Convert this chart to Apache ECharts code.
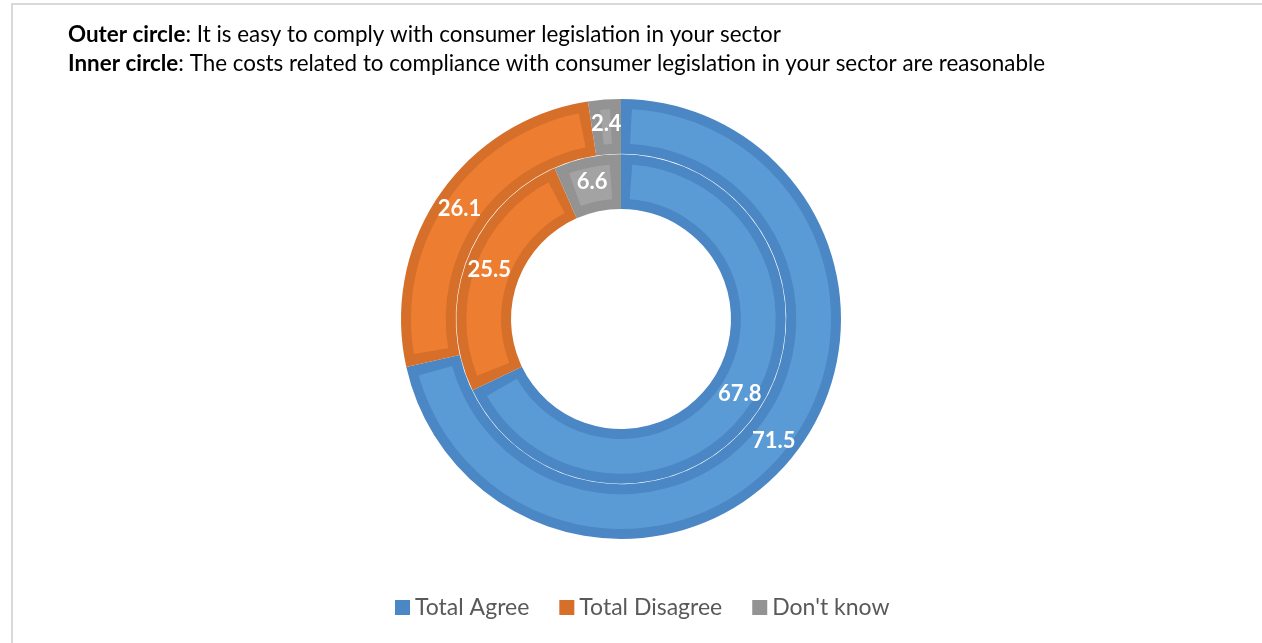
<!DOCTYPE html>
<html>
<head>
<meta charset="utf-8">
<title>Consumer legislation compliance</title>
<script src="https://cdn.jsdelivr.net/npm/echarts@6/dist/echarts.min.js"></script>
<style>
  html, body { margin: 0; padding: 0; background: #fff; }
  #chart { width: 1262px; height: 643px; }
</style>
</head>
<body>
<div id="chart"></div>
<script>
// Response categories (clockwise from 12 o'clock)
const categories = ['Total Agree', 'Total Disagree', "Don't know"];
// Outer circle: "It is easy to comply with consumer legislation in your sector"
const outerValues = [71.5, 26.1, 2.4];
// Inner circle: "The costs related to compliance ... are reasonable"
const innerValues = [67.8, 25.5, 6.6];

const fillColors = ['#5B9BD5', '#ED7D31', '#A3A3A3'];
const edgeColors = ['#4A87C4', '#D56F2A', '#939393'];

const cx = 621, cy = 319;
const rHole = 110, rMid = 165, rOuter = 220;
const band = 10; // width of the darker rim around each segment

function toData(values, colors) {
  return categories.map((name, i) => ({
    name: name,
    value: values[i],
    itemStyle: { color: colors[i] }
  }));
}

const labelStyle = {
  show: true,
  position: 'inside',
  color: '#ffffff',
  fontFamily: 'Lato, "Open Sans", sans-serif',
  fontWeight: 'bold',
  fontSize: 22,
  formatter: p => p.value.toFixed(1)
};

function ring(r0, r1, values) {
  const rm = (r0 + r1) / 2;
  const pad = (2 * band / rm) * 180 / Math.PI;
  return [
    {
      type: 'pie',
      center: [cx, cy],
      radius: [r0, r1],
      startAngle: 90,
      clockwise: true,
      silent: true,
      label: { show: false },
      labelLine: { show: false },
      data: toData(values, edgeColors)
    },
    {
      type: 'pie',
      center: [cx, cy],
      radius: [r0 + band, r1 - band],
      startAngle: 90,
      clockwise: true,
      padAngle: pad,
      silent: true,
      label: labelStyle,
      labelLine: { show: false },
      data: toData(values, fillColors)
    }
  ];
}

const chart = echarts.init(document.getElementById('chart'), null, { renderer: 'canvas' });

chart.setOption({
  animation: false,
  backgroundColor: '#ffffff',
  graphic: [
    {
      type: 'rect',
      shape: { x: 12, y: 4, width: 1400, height: 800 },
      style: { fill: 'none', stroke: '#D9D9D9', lineWidth: 2 },
      z: -1
    }
  ],
  title: {
    left: 63,
    top: 15,
    text: '{b|Outer circle}: It is easy to comply with consumer legislation in your sector\n{b|Inner circle}: The costs related to compliance with consumer legislation in your sector are reasonable',
    textStyle: {
      fontFamily: 'Lato, "Open Sans", sans-serif',
      fontSize: 22.4,
      fontWeight: 'normal',
      color: '#000000',
      lineHeight: 29,
      rich: {
        b: {
          fontFamily: 'Lato, "Open Sans", sans-serif',
          fontSize: 22.4,
          fontWeight: 'bold',
          color: '#000000',
          lineHeight: 29
        }
      }
    }
  },
  legend: {
    bottom: 19,
    left: 390,
    itemWidth: 15,
    itemHeight: 15,
    itemGap: 30,
    icon: 'rect',
    textStyle: {
      fontFamily: 'Lato, "Open Sans", sans-serif',
      fontSize: 23,
      color: '#595959'
    },
    data: categories.map((name, i) => ({ name: name, itemStyle: { color: edgeColors[i] } }))
  },
  series: [
    ...ring(rMid + 0.3, rOuter, outerValues),
    ...ring(rHole, rMid - 0.3, innerValues)
  ]
});
</script>
</body>
</html>
